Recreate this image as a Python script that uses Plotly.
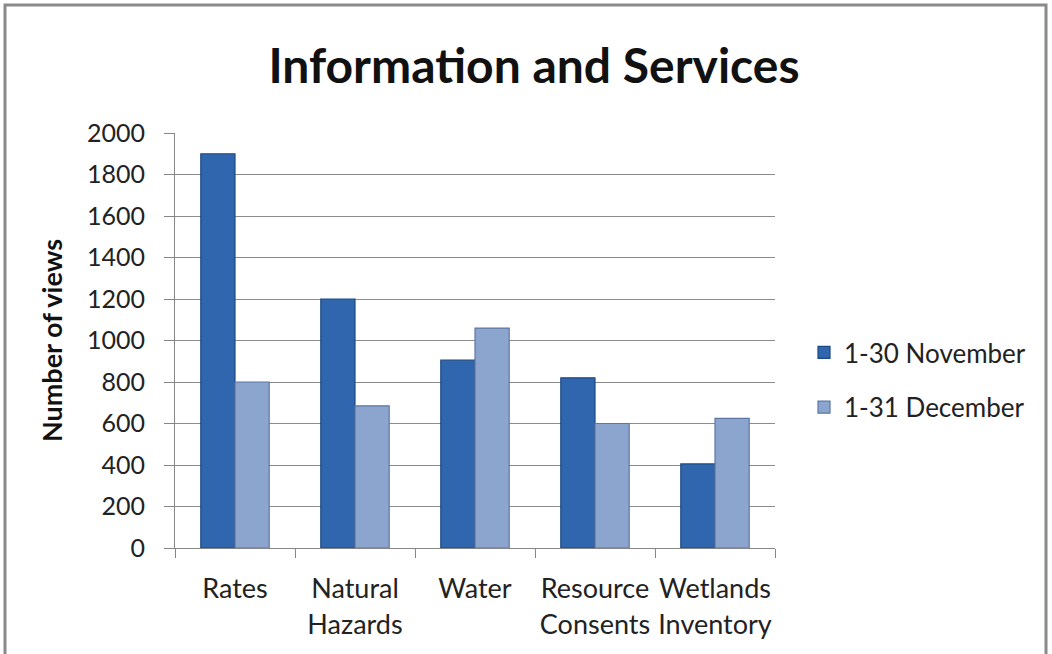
import plotly.graph_objects as go

categories = ["Rates", "Natural<br>Hazards", "Water", "Resource<br>Consents", "Wetlands<br>Inventory"]
november = [1900, 1200, 905, 820, 405]
december = [800, 685, 1060, 600, 625]
series_names = ["1-30 November", "1-31 December"]
y_ticks = [0, 200, 400, 600, 800, 1000, 1200, 1400, 1600, 1800, 2000]

W, H = 1052, 654
L, R, T, B = 175, 277, 133, 106
pw, ph = W - L - R, H - T - B

fig = go.Figure()
fig.add_trace(go.Bar(x=categories, y=november, name=series_names[0], legendgroup="a",
                     marker=dict(color="#2f66ad", line=dict(color="#1d4a85", width=1.2))))
fig.add_trace(go.Bar(x=categories, y=december, name=series_names[1], legendgroup="b",
                     marker=dict(color="#8ba5cf", line=dict(color="#5d77a3", width=1.2))))

font = "Lato, 'Open Sans', sans-serif"
fig.update_layout(
    width=W, height=H,
    margin=dict(l=L, r=R, t=T, b=B, autoexpand=False),
    paper_bgcolor="white", plot_bgcolor="white",
    barmode="group", bargap=0.43, bargroupgap=0,
    font=dict(family=font, size=26, color="#222"),
    title=dict(text="<b>Information and Services</b>", x=534 / W, xanchor="center",
               y=1 - 66 / H, yanchor="middle", font=dict(size=48, color="#111", family=font)),
    showlegend=True,
    legend=dict(x=(804 - L) / pw, y=(548 - 329) / ph, xanchor="left", yanchor="top",
                font=dict(size=26, color="#222"), itemwidth=30, tracegroupgap=18,
                bgcolor="rgba(0,0,0,0)"),
    xaxis=dict(showline=True, linecolor="#868686", linewidth=1, tickson="boundaries",
               ticks="outside", ticklen=9, tickcolor="#868686", showgrid=False,
               ticklabelstandoff=17, tickangle=0, automargin=False,
               tickfont=dict(size=27, color="#222")),
    yaxis=dict(range=[0, 2000], tickvals=y_ticks, showline=True, linecolor="#868686",
               linewidth=1, ticks="outside", ticklen=10, tickcolor="#868686",
               showgrid=True, gridcolor="#8c8c8c", gridwidth=1, zeroline=False,
               ticklabelstandoff=14, automargin=False,
               tickfont=dict(size=25, color="#222"),
               title=dict(text="<b>Number of views</b>", font=dict(size=27, color="#111"),
                          standoff=16)),
)
fig.add_shape(type="rect", xref="paper", yref="paper",
              x0=(5 - L) / pw, x1=(1046 - L) / pw, y0=(548 - 700) / ph, y1=(548 - 5) / ph,
              line=dict(color="#8a8a8a", width=3), fillcolor="rgba(0,0,0,0)", layer="below")
fig.write_html("out.html", config={"displayModeBar": False},
               post_script="document.body.style.margin='0';")
